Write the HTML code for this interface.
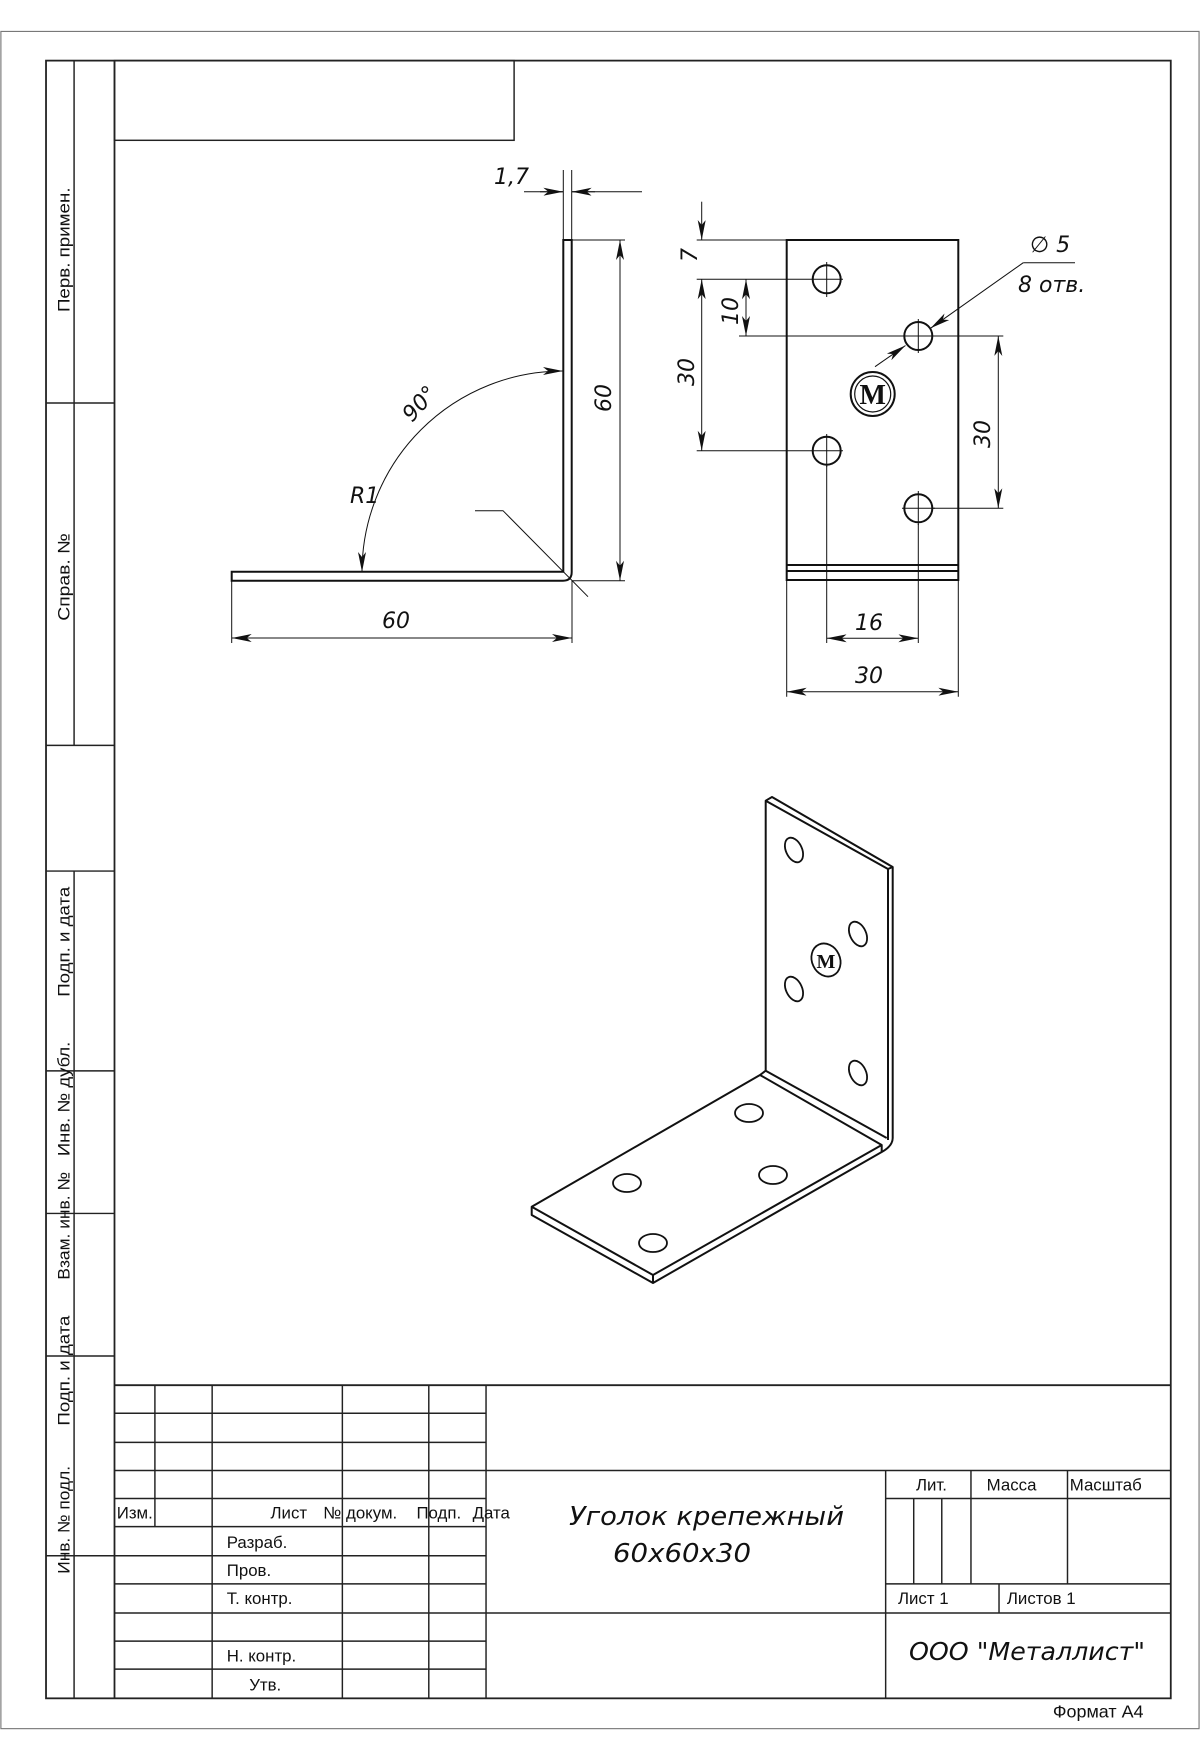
<!DOCTYPE html>
<html><head><meta charset="utf-8"><style>
html,body{margin:0;padding:0;background:#fff}
svg{display:block}
.d{font-family:"DejaVu Sans",sans-serif;font-style:italic;font-size:22px;fill:#111}
.t{font-family:"Liberation Sans",sans-serif;font-size:14px;fill:#111}
</style></head><body>
<svg width="1200" height="1760" viewBox="0 0 1200 1760" xmlns="http://www.w3.org/2000/svg">
<defs>
<marker id="a" viewBox="0 0 20 8" refX="20" refY="4" markerWidth="20" markerHeight="8" orient="auto-start-reverse" markerUnits="userSpaceOnUse"><path d="M0,0 L20,4 L0,8 L5,4 Z" fill="#111"/></marker>
</defs>
<g transform="scale(1.1225)" fill="none" stroke="#222" stroke-width="1.3">
<rect x="0.8" y="28" width="1067.4" height="1512" stroke="#777" stroke-width="1"/>
<rect x="41" y="54" width="1002" height="1459" stroke-width="1.6"/>
<line x1="102" y1="54" x2="102" y2="1513" stroke-width="1.6"/>
<path d="M66 54V664 M41 664H102 M41 359H102 M41 776H102 M66 776V1513 M41 954H102 M41 1081H102 M41 1208H102 M41 1386H102"/>
<rect x="102" y="54" width="356" height="71"/>
<line x1="102" y1="1234" x2="1043" y2="1234" stroke-width="1.6"/>
<path d="M102 1259H433 M102 1285H433 M102 1310H1043 M102 1335H433 M102 1360H433 M102 1386H433 M102 1411H433 M102 1437H1043 M102 1462H433 M102 1487H433"/>
<path d="M138 1234V1360 M189 1234V1513 M305 1234V1513 M382 1234V1513 M433 1234V1513 M789 1310V1513"/>
<path d="M789 1335H1043 M865 1310V1411 M951 1310V1411 M814 1335V1411 M839 1335V1411 M789 1411H1043 M890 1411V1437"/>
</g>
<g transform="scale(1.1225)" class="t">
<g font-size="15">
<text transform="translate(62,278) rotate(-90)" textLength="111" lengthAdjust="spacingAndGlyphs">Перв. примен.</text>
<text transform="translate(62,553) rotate(-90)" textLength="78" lengthAdjust="spacingAndGlyphs">Справ. №</text>
<text transform="translate(62,888) rotate(-90)" textLength="98" lengthAdjust="spacingAndGlyphs">Подп. и дата</text>
<text transform="translate(62,1030) rotate(-90)" textLength="102" lengthAdjust="spacingAndGlyphs">Инв. № дубл.</text>
<text transform="translate(62,1140) rotate(-90)" textLength="96" lengthAdjust="spacingAndGlyphs">Взам. инв. №</text>
<text transform="translate(62,1270) rotate(-90)" textLength="98" lengthAdjust="spacingAndGlyphs">Подп. и дата</text>
<text transform="translate(62,1402) rotate(-90)" textLength="96" lengthAdjust="spacingAndGlyphs">Инв. № подл.</text>
<text x="104" y="1353">Изм.</text>
<text x="241" y="1353">Лист</text>
<text x="288" y="1353">№ докум.</text>
<text x="371" y="1353">Подп.</text>
<text x="421" y="1353">Дата</text>
<text x="202" y="1379">Разраб.</text>
<text x="202" y="1404">Пров.</text>
<text x="202" y="1429">Т. контр.</text>
<text x="202" y="1480">Н. контр.</text>
<text x="222" y="1506">Утв.</text>
<text x="816" y="1328">Лит.</text>
<text x="879" y="1328">Масса</text>
<text x="953" y="1328">Масштаб</text>
<text x="800" y="1429">Лист 1</text>
<text x="897" y="1429">Листов 1</text>
<text x="938" y="1530" font-size="16">Формат А4</text>
</g>
</g>
<g class="d">
<text x="569" y="1525" font-size="26" textLength="275" lengthAdjust="spacingAndGlyphs">Уголок крепежный</text>
<text x="613" y="1562" font-size="26" textLength="138" lengthAdjust="spacingAndGlyphs">60x60x30</text>
<text x="909" y="1660" font-size="25" textLength="236" lengthAdjust="spacingAndGlyphs">ООО "Металлист"</text>
</g>
<g fill="none" stroke="#111" stroke-width="2">
<path d="M563.3 240H571.7V572 Q571.7 580.7 563 580.7H231.7V571.7H563.3Z"/>
</g>
<g fill="none" stroke="#111" stroke-width="1">
<path d="M563.3 170V240 M571.7 170V240 M524 191.7H563.3 M571.7 191.7H642"/>
<line x1="540" y1="191.7" x2="563.3" y2="191.7" marker-end="url(#a)"/>
<line x1="595" y1="191.7" x2="571.7" y2="191.7" marker-end="url(#a)"/>
<path d="M572 240H625 M572 580.7H625 M231.7 580.7V643 M572 580.7V643"/>
<line x1="620" y1="240" x2="620" y2="580.7" marker-start="url(#a)" marker-end="url(#a)"/>
<line x1="231.7" y1="638" x2="572" y2="638" marker-start="url(#a)" marker-end="url(#a)"/>
<path d="M563 371 A201 201 0 0 0 362 572" marker-start="url(#a)" marker-end="url(#a)"/>
<path d="M475 510.7H503L588 596.7"/>
</g>
<g class="d">
<text x="494" y="184">1,7</text>
<text transform="translate(611,412) rotate(-90)">60</text>
<text x="382" y="628">60</text>
<text transform="translate(412,423) rotate(-48)">90°</text>
<text x="350" y="503">R1</text>
</g>
<g fill="none" stroke="#111" stroke-width="2">
<rect x="786.7" y="240" width="171.6" height="340"/>
<path d="M786.7 565H958.3 M786.7 571H958.3"/>
<circle cx="826.7" cy="279.3" r="14"/><circle cx="918.3" cy="336" r="14"/>
<circle cx="826.7" cy="450.7" r="14"/><circle cx="918.3" cy="508.3" r="14"/>
<circle cx="872.7" cy="394" r="22"/><circle cx="872.7" cy="394" r="18" stroke-width="1.2"/>
</g>
<text x="872.7" y="404" text-anchor="middle" font-family="Liberation Serif,serif" font-weight="bold" font-size="28" fill="#111">M</text>
<g fill="none" stroke="#111" stroke-width="1">
<path d="M811 279.3H843 M826.7 262V297 M902 336H935 M918.3 319V353 M811 450.7H843 M826.7 434V467 M902 508.3H935 M918.3 491V525"/>
<path d="M696.7 240H787 M696.7 279.3H811 M696.7 450.7H811 M739 336H902 M933 336H1003.3 M933 508.3H1003.3"/>
<line x1="701.7" y1="201.7" x2="701.7" y2="240" marker-end="url(#a)"/>
<line x1="701.7" y1="279.3" x2="701.7" y2="450.7" marker-start="url(#a)" marker-end="url(#a)"/>
<line x1="746" y1="279.3" x2="746" y2="336" marker-start="url(#a)" marker-end="url(#a)"/>
<line x1="998.3" y1="336" x2="998.3" y2="508.3" marker-start="url(#a)" marker-end="url(#a)"/>
<path d="M826.7 466V643 M918.3 524V643 M786.7 580V696.7 M958.3 580V696.7"/>
<line x1="826.7" y1="638.3" x2="918.3" y2="638.3" marker-start="url(#a)" marker-end="url(#a)"/>
<line x1="786.7" y1="691.7" x2="958.3" y2="691.7" marker-start="url(#a)" marker-end="url(#a)"/>
<line x1="875" y1="366.7" x2="905.5" y2="345.5" marker-end="url(#a)"/>
<line x1="1023.3" y1="262.7" x2="930.5" y2="328.3" marker-end="url(#a)"/>
<path d="M1023.3 262.7H1075"/>
</g>
<g class="d">
<text x="1030" y="252">∅ 5</text>
<text x="1018" y="292">8 отв.</text>
<text transform="translate(697,262) rotate(-90)">7</text>
<text transform="translate(738,325) rotate(-90)">10</text>
<text transform="translate(694,386) rotate(-90)">30</text>
<text transform="translate(990,448) rotate(-90)">30</text>
<text x="855" y="630">16</text>
<text x="855" y="683">30</text>
</g>
<g fill="none" stroke="#111" stroke-width="2" stroke-linejoin="round">
<path d="M765.7 800.7 L772 797 L892.7 867 L892.7 1138 Q892.7 1146 881.7 1152 L653 1283 L531.7 1215 L531.7 1206.7 L760 1075 L765.7 1070.7 Z"/>
<path d="M765.7 800.7 L888 869 L892.7 867 M888 869 L888 1140 M765.7 1070.7 L886.7 1138 M760 1075 L881.7 1145 L881.7 1152 M881.7 1145 L653 1275 L531.7 1206.7 M653 1275 V1283"/>
<g stroke-width="1.8">
<ellipse cx="794" cy="850" rx="8" ry="13" transform="rotate(-25 794 850)"/>
<ellipse cx="858" cy="934" rx="8" ry="13" transform="rotate(-25 858 934)"/>
<ellipse cx="794" cy="989" rx="8" ry="13" transform="rotate(-25 794 989)"/>
<ellipse cx="858" cy="1073" rx="8" ry="13" transform="rotate(-25 858 1073)"/>
<ellipse cx="826" cy="960" rx="14" ry="17" transform="rotate(-25 826 960)"/>
<ellipse cx="749" cy="1113" rx="14" ry="9"/>
<ellipse cx="773" cy="1175" rx="14" ry="9"/>
<ellipse cx="627" cy="1183" rx="14" ry="9"/>
<ellipse cx="653" cy="1243" rx="14" ry="9"/>
</g>
</g>
<text x="826" y="968" text-anchor="middle" font-family="Liberation Serif,serif" font-weight="bold" font-size="20" fill="#111">M</text>
</svg>
</body></html>
